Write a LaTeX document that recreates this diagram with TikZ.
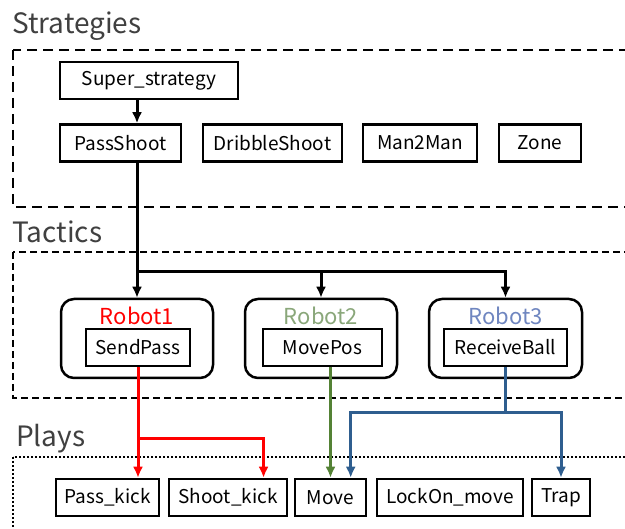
\documentclass[tikz,border=0pt]{standalone}
\usepackage{fontspec}
\setmainfont{Noto Sans CJK JP}
\usepackage{tikz}
\usetikzlibrary{arrows.meta}
\usetikzlibrary{calc}
\usetikzlibrary{positioning}
\definecolor{robotred}{RGB}{255,0,0}
\definecolor{robotgreen}{RGB}{138,167,122}
\definecolor{robotblue}{RGB}{111,134,192}
\definecolor{linegreen}{RGB}{84,130,53}
\definecolor{lineblue}{RGB}{47,94,143}
\tikzset{box/.style = {draw, line width = 2.5, minimum height = 37, inner sep = 0,
                       font = \fontsize{19}{19}\selectfont}}
\tikzset{robotbox/.style = {draw, line width = 2.5, rounded corners = 13,
                            minimum width = 152, minimum height = 79, inner sep = 0}}
\tikzset{robotlabel/.style = {font = \fontsize{22}{22}\selectfont, text = #1}}
\tikzset{title/.style = {anchor = base west, inner sep = 0,
                         font = \fontsize{28}{28}\selectfont, text = black!75}}
\tikzset{flow/.style = {line width = 3, -{Latex[length = 11, width = 10]}}}
\tikzset{layer/.style = {line width = 2.8, dash pattern = on 10 off 6}}

\begin{document}
\begin{tikzpicture}[x = 1pt, y = -1pt]
    \clip (0, 0) rectangle (625, 529);
    \fill [white] (0, 0) rectangle (625, 529);

    % layers
    \node [title] (strattitle) at (12, 34) {Strategies};
    \draw [layer] (13, 50) rectangle (660, 207);
    \node [title] (tactitle) at (12, 243) {Tactics};
    \draw [line width = 2.4, dash pattern = on 7 off 4] (13, 252) rectangle (660, 398);
    \node [title] (playtitle) at (16, 447) {Plays};
    \draw [line width = 2.4, dash pattern = on 2 off 2] (13, 457) rectangle (660, 560);

    % strategies
    \node [box, minimum width = 178] (super) at (149, 80.5) {Super\_strategy};
    \node [box, minimum width = 121] (passshoot) at (120.5, 143) {PassShoot};
    \node [box, minimum width = 139] (dribble) at (272.5, 143) {DribbleShoot};
    \node [box, minimum width = 114] (man2man) at (420, 143) {Man2Man};
    \node [box, minimum width = 82] (zone) at (540, 143) {Zone};

    % tactics
    \node [robotbox] (robot1) at (137, 338.5) {};
    \node [robotbox] (robot2) at (321, 338.5) {};
    \node [robotbox, minimum width = 153] (robot3) at (505.5, 338.5) {};
    \node [robotlabel = robotred] (r1label) at (137, 316) {Robot1};
    \node [robotlabel = robotgreen] (r2label) at (321, 316) {Robot2};
    \node [robotlabel = robotblue] (r3label) at (505.5, 316) {Robot3};
    \node [box, minimum width = 104] (sendpass) at (138, 347.5) {SendPass};
    \node [box, minimum width = 119] (movepos) at (322.5, 347.5) {MovePos};
    \node [box, minimum width = 123] (receiveball) at (505.5, 347.5) {ReceiveBall};

    % plays
    \node [box, minimum width = 103] (passkick) at (107.5, 497.5) {Pass\_kick};
    \node [box, minimum width = 118] (shootkick) at (228, 497.5) {Shoot\_kick};
    \node [box, minimum width = 71] (move) at (330.5, 497.5) {Move};
    \node [box, minimum width = 146] (lockon) at (450, 497.5) {LockOn\_move};
    \node [box, minimum width = 58] (trap) at (561, 497.5) {Trap};

    \coordinate (blackbus) at (0, 272);
    \coordinate (redbus) at (0, 439);
    \coordinate (bluebus) at (0, 413);
    \coordinate (shootin) at ($(shootkick.north)!0.59!(shootkick.north east)$);
    \coordinate (movein) at ($(move.north)!0.55!(move.north east)$);

    \draw [flow] (super.south -| robot1.north) -- (passshoot.north -| robot1.north);
    \draw [flow] (passshoot.south -| robot1.north) -- (robot1.north);
    \draw [flow] (robot1.north |- blackbus) -| (robot3.north);
    \draw [flow] (robot2.north |- blackbus) -- (robot2.north);

    \draw [flow, robotred] (sendpass.south) -- (passkick.north -| sendpass.south);
    \draw [flow, robotred] (sendpass.south |- redbus) -| (shootin);

    \draw [flow, linegreen] (movepos.south -| move.north) -- (move.north);

    \draw [line width = 3, lineblue] (receiveball.south) -- (receiveball.south |- bluebus);
    \draw [flow, lineblue] (receiveball.south |- bluebus) -| (movein);
    \draw [flow, lineblue] (receiveball.south |- bluebus) -| (trap.north);
\end{tikzpicture}
\end{document}
